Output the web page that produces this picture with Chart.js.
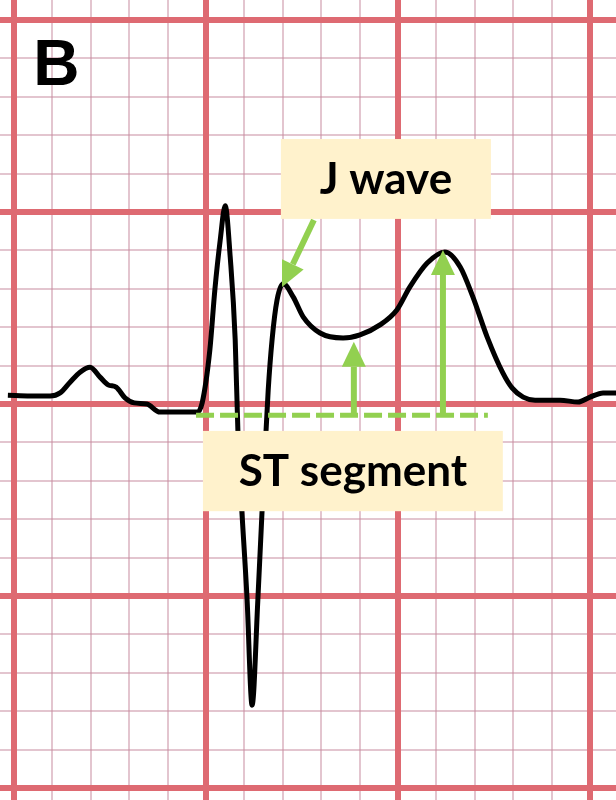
<!DOCTYPE html>
<html>
<head>
<meta charset="utf-8">
<script src="https://cdn.jsdelivr.net/npm/chart.js@4"></script>
<style>
  html, body { margin: 0; padding: 0; background: #fff; }
  #wrap { width: 616px; height: 800px; }
</style>
</head>
<body>
<div id="wrap"><canvas id="ecg"></canvas></div>
<script>
const timeMm = [
  -0.16, 0.42, 0.94, 1.20, 1.46, 1.72, 1.98, 2.24, 2.45, 2.66, 2.89, 3.13, 3.46, 3.80,
  4.77, 4.90, 5.10, 5.23, 5.37, 5.50, 5.63, 5.76, 5.83, 6.07, 6.20, 6.35, 6.51, 6.62,
  6.72, 6.85, 7.01, 7.27, 7.53, 7.97, 8.57, 9.01, 9.53, 9.97, 10.31, 10.76, 11.22,
  11.62, 11.95, 12.32, 12.73, 12.97, 13.26, 13.57, 14.22, 14.69, 15.00, 15.34, 15.78
];
const amplitudeMm = [
  0.23, 0.21, 0.21, 0.29, 0.57, 0.83, 0.96, 0.70, 0.50, 0.44, 0.16, 0.03, 0.00, -0.21,
  -0.21, 0.03, 1.41, 2.97, 4.27, 5.16, 3.83, 1.67, -0.68, -5.10, -7.84, -5.10, -1.72, 0.37,
  1.67, 2.71, 3.13, 2.79, 2.27, 1.85, 1.72, 1.80, 2.06, 2.45, 3.05, 3.67, 3.96,
  3.57, 2.79, 1.75, 0.81, 0.42, 0.18, 0.10, 0.10, 0.05, 0.18, 0.29, 0.29
];

const xMinorTicks = [0, 1, 2, 3, 4, 5, 6, 7, 8, 9, 10, 11, 12, 13, 14, 15];
const xMajorTicks = [0, 5, 10, 15];
const yMinorTicks = [-10, -9, -8, -7, -6, -5, -4, -3, -2, -1, 0, 1, 2, 3, 4, 5, 6, 7, 8, 9, 10];
const yMajorTicks = [-10, -5, 0, 5, 10];

const panelLabel = 'B';
const jWaveLabel = 'J wave';
const stLabel = 'ST segment';

const green = '#92d050';
const boxFill = '#fff2cc';

const xRange = { min: -0.365, max: 15.677 };
const yRange = { min: -10.31, max: 10.52 };

function setTicks(list) {
  return scale => { scale.ticks = list.map(v => ({ value: v })); };
}

function gridAxis(range, ticks, color, width, z) {
  return {
    type: 'linear',
    min: range.min,
    max: range.max,
    afterBuildTicks: setTicks(ticks),
    ticks: { display: false },
    border: { display: false },
    grid: { color: color, lineWidth: width, drawTicks: false, z: z }
  };
}

function arrow(ctx, x1, y1, x2, y2) {
  const a = Math.atan2(y2 - y1, x2 - x1);
  const head = 25, half = 12;
  const bx = x2 - head * Math.cos(a), by = y2 - head * Math.sin(a);
  ctx.lineWidth = 6;
  ctx.beginPath();
  ctx.moveTo(x1, y1);
  ctx.lineTo(bx, by);
  ctx.stroke();
  ctx.beginPath();
  ctx.moveTo(x2, y2);
  ctx.lineTo(bx + half * Math.sin(a), by - half * Math.cos(a));
  ctx.lineTo(bx - half * Math.sin(a), by + half * Math.cos(a));
  ctx.closePath();
  ctx.fill();
}

function labelBox(ctx, x1, y1, x2, y2, text) {
  ctx.fillStyle = boxFill;
  ctx.fillRect(x1, y1, x2 - x1, y2 - y1);
  ctx.fillStyle = '#000';
  ctx.font = 'bold 44px Lato';
  ctx.textAlign = 'center';
  ctx.textBaseline = 'alphabetic';
  ctx.fillText(text, (x1 + x2) / 2, (y1 + y2) / 2 + 15);
}

const notes = {
  id: 'notes',
  afterDatasetsDraw(chart) {
    const ctx = chart.ctx;
    const px = v => chart.scales.x.getPixelForValue(v);
    const py = v => chart.scales.y.getPixelForValue(v);
    ctx.save();

    // dashed isoelectric reference
    ctx.strokeStyle = green;
    ctx.fillStyle = green;
    ctx.lineWidth = 5;
    ctx.setLineDash([18, 6]);
    ctx.beginPath();
    ctx.moveTo(px(4.74), py(-0.29));
    ctx.lineTo(px(12.34), py(-0.29));
    ctx.stroke();
    ctx.setLineDash([]);

    arrow(ctx, px(8.85), py(-0.29), px(8.85), py(1.62));
    arrow(ctx, px(11.17), py(-0.29), px(11.17), py(4.01));
    arrow(ctx, px(7.81), py(4.79), px(6.98), py(3.05));

    labelBox(ctx, px(6.95), py(6.90), px(12.42), py(4.82), jWaveLabel);
    labelBox(ctx, px(4.92), py(-0.70), px(12.73), py(-2.79), stLabel);

    ctx.fillStyle = '#000';
    ctx.font = 'bold 64px "Liberation Sans"';
    ctx.textAlign = 'left';
    ctx.fillText(panelLabel, px(0.50), py(8.31));
    ctx.restore();
  }
};

const trace = timeMm.map((t, i) => ({ x: t, y: amplitudeMm[i] }));

const minorColor = 'rgba(200,140,160,0.5)';
const majorColor = '#de6a72';

const config = {
  type: 'line',
  data: {
    datasets: [{
      data: trace,
      borderColor: '#000',
      borderWidth: 5,
      pointRadius: 0,
      fill: false,
      cubicInterpolationMode: 'monotone'
    }]
  },
  options: {
    responsive: true,
    maintainAspectRatio: false,
    animation: false,
    events: [],
    layout: { padding: 0 },
    plugins: { legend: { display: false }, tooltip: { enabled: false } },
    scales: {
      x: Object.assign(gridAxis(xRange, xMinorTicks, minorColor, 2, -2), { position: 'bottom' }),
      y: Object.assign(gridAxis(yRange, yMinorTicks, minorColor, 2, -2), { position: 'left' }),
      xMajor: Object.assign(gridAxis(xRange, xMajorTicks, majorColor, 6, -1), { position: 'bottom' }),
      yMajor: Object.assign(gridAxis(yRange, yMajorTicks, majorColor, 6, -1), { position: 'left' })
    }
  },
  plugins: [notes]
};

const myChart = new Chart(document.getElementById('ecg'), config);
</script>
</body>
</html>
